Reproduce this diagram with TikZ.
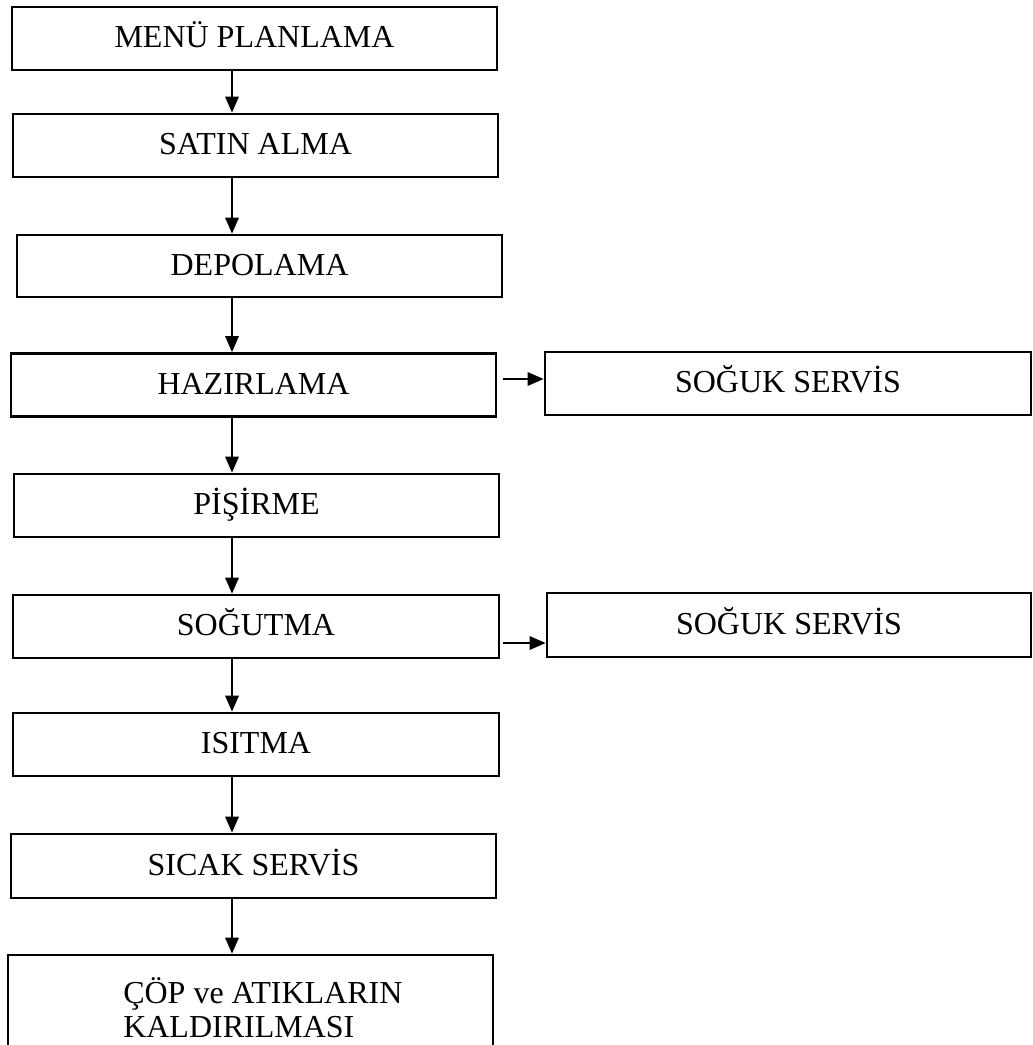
\documentclass[tikz,border=0pt]{standalone}
\usepackage{fontspec}
\setmainfont{Liberation Serif}
\usetikzlibrary{arrows.meta}
\begin{document}
\begin{tikzpicture}[x=0.75pt,y=-0.75pt,
  stepbox/.style={draw=black, line width=2pt, rectangle, inner sep=0pt,
    font=\fontsize{24pt}{24pt}\selectfont, text height=13.5pt, text depth=0pt,
    minimum width=#1},
  stepbox/.default={485*0.75pt},
  arr/.style={draw=black, line width=1.6pt, -{Triangle[length=12pt,width=10pt]}}
]
\useasboundingbox (0,0) rectangle (1032,1045);
\fill[white] (0,0) rectangle (1032,1045);

\node[stepbox, minimum height=47.25pt] (menu)  at (254.5,38.5)  {MENÜ PLANLAMA};
\node[stepbox, minimum height=47.25pt] (satin) at (255.5,145.5) {SATIN ALMA};
\node[stepbox, minimum height=46.5pt]  (depo)  at (259.5,266)   {DEPOLAMA};
\node[stepbox, minimum height=47.25pt] (haz)   at (253.5,385)   {HAZIRLAMA};
\node[stepbox, minimum height=47.25pt] (pis)   at (256.5,505.5) {PİŞİRME};
\node[stepbox={486*0.75pt}, minimum height=47.25pt] (sogut) at (256,626.5) {SOĞUTMA};
\node[stepbox={486*0.75pt}, minimum height=47.25pt] (isit)  at (256,744.5) {ISITMA};
\node[stepbox, minimum height=48pt]    (sicak) at (253.5,866)   {SICAK SERVİS};
\node[stepbox, minimum height=69pt]    (cop)   at (250.5,1001)  {};
\node[anchor=base west, align=left, inner sep=0pt,
      font=\fontsize{24pt}{25pt}\selectfont] (coptext) at (123,1037)
      {ÇÖP ve ATIKLARIN\\KALDIRILMASI};

\node[stepbox={486*0.75pt}, minimum height=47.25pt] (sog1) at (788,383.5) {SOĞUK SERVİS};
\node[stepbox={484*0.75pt}, minimum height=48pt]    (sog2) at (789,625)   {SOĞUK SERVİS};

\coordinate (ax) at (232,0);
\draw[arr] (ax |- menu.south)  -- (ax |- satin.north);
\draw[arr] (ax |- satin.south) -- (ax |- depo.north);
\draw[arr] (ax |- depo.south)  -- (ax |- haz.north);
\draw[arr] (ax |- haz.south)   -- (ax |- pis.north);
\draw[arr] (ax |- pis.south)   -- (ax |- sogut.north);
\draw[arr] (ax |- sogut.south) -- (ax |- isit.north);
\draw[arr] (ax |- isit.south)  -- (ax |- sicak.north);
\draw[arr] (ax |- sicak.south) -- (ax |- cop.north);

\coordinate (h1) at ([shift={(4.5pt,4.5pt)}]haz.east);
\draw[arr] (h1) -- (h1 -| sog1.west);
\coordinate (h2) at ([shift={(2.25pt,-12.4pt)}]sogut.east);
\draw[arr] (h2) -- (h2 -| sog2.west);
\end{tikzpicture}
\end{document}
